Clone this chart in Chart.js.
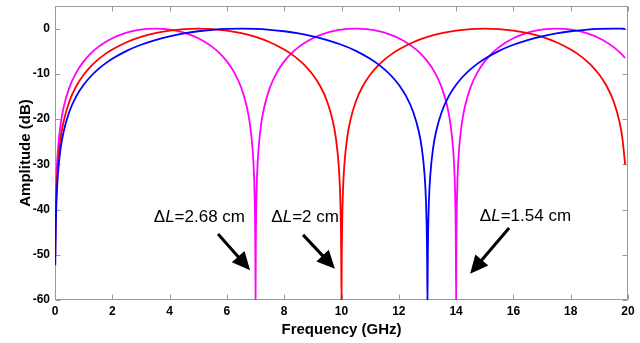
<!DOCTYPE html>
<html>
<head>
<meta charset="utf-8">
<script src="https://cdn.jsdelivr.net/npm/chart.js@4/dist/chart.umd.min.js"></script>
<style>
html, body { margin: 0; padding: 0; background: #ffffff; }
#wrap { width: 640px; height: 343px; position: relative; }
</style>
</head>
<body>
<div id="wrap"><canvas id="c" width="640" height="343"></canvas></div>
<script>
// ---- Data ----
const xTickValues = [0, 2, 4, 6, 8, 10, 12, 14, 16, 18, 20];
const yTickValues = [-60, -50, -40, -30, -20, -10, 0];

// Magenta curve (ΔL = 2.68 cm), nulls at 7 and 14 GHz
const freqMagenta = [0.01,0.02,0.05,0.1,0.2,0.3,0.5,0.75,1,1.25,1.5,1.75,2,2.25,2.5,2.75,3,3.25,3.5,3.75,4,4.25,4.5,4.75,5,5.25,5.5,5.75,6,6.25,6.5,6.7,6.8,6.9,6.95,6.98,6.99,7,
  7.01,7.02,7.05,7.1,7.2,7.3,7.5,7.75,8,8.25,8.5,8.75,9,9.25,9.5,9.75,10,10.25,10.5,10.75,11,11.25,11.5,11.75,12,12.25,12.5,12.75,13,13.25,13.5,13.7,13.8,13.9,13.95,13.98,13.99,14,
  14.01,14.02,14.05,14.1,14.2,14.3,14.5,14.75,15,15.25,15.5,15.75,16,16.25,16.5,16.75,17,17.25,17.5,17.75,18,18.25,18.5,18.75,19,19.25,19.5,19.75,19.9];
const ampMagenta = [-46.96,-40.94,-32.98,-26.96,-20.95,-17.44,-13.05,-9.62,-7.25,-5.48,-4.10,-3.01,-2.14,-1.45,-0.91,-0.50,-0.22,-0.05,0,-0.05,-0.22,-0.50,-0.91,-1.45,-2.14,-3.01,-4.10,-5.48,-7.25,-9.62,-13.05,-17.44,-20.95,-26.96,-32.98,-40.94,-46.96,-60,
  -46.96,-40.94,-32.98,-26.96,-20.95,-17.44,-13.05,-9.62,-7.25,-5.48,-4.10,-3.01,-2.14,-1.45,-0.91,-0.50,-0.22,-0.05,0,-0.05,-0.22,-0.50,-0.91,-1.45,-2.14,-3.01,-4.10,-5.48,-7.25,-9.62,-13.05,-17.44,-20.95,-26.96,-32.98,-40.94,-46.96,-60,
  -46.96,-40.94,-32.98,-26.96,-20.95,-17.44,-13.05,-9.62,-7.25,-5.48,-4.10,-3.01,-2.14,-1.45,-0.91,-0.50,-0.22,-0.05,0,-0.05,-0.22,-0.50,-0.91,-1.45,-2.14,-3.01,-4.10,-5.48,-6.49];

// Red curve (ΔL = 2 cm), null at 10 GHz
const freqRed = [0.01,0.02,0.05,0.1,0.2,0.3,0.5,0.75,1,1.25,1.5,1.75,2,2.5,3,3.5,4,4.5,5,5.5,6,6.5,7,7.5,8,8.25,8.5,8.75,9,9.25,9.5,9.7,9.8,9.9,9.95,9.98,9.99,10,
  10.01,10.02,10.05,10.1,10.2,10.3,10.5,10.75,11,11.25,11.5,11.75,12,12.5,13,13.5,14,14.5,15,15.5,16,16.5,17,17.5,18,18.25,18.5,18.75,19,19.25,19.5,19.7,19.8,19.9];
const ampRed = [-50.06,-44.04,-36.08,-30.06,-24.04,-20.53,-16.11,-12.64,-10.20,-8.34,-6.86,-5.64,-4.62,-3.01,-1.84,-1.00,-0.44,-0.11,0,-0.11,-0.44,-1.00,-1.84,-3.01,-4.62,-5.64,-6.86,-8.34,-10.20,-12.64,-16.11,-20.53,-24.04,-30.06,-36.08,-44.04,-50.06,-60,
  -50.06,-44.04,-36.08,-30.06,-24.04,-20.53,-16.11,-12.64,-10.20,-8.34,-6.86,-5.64,-4.62,-3.01,-1.84,-1.00,-0.44,-0.11,0,-0.11,-0.44,-1.00,-1.84,-3.01,-4.62,-5.64,-6.86,-8.34,-10.20,-12.64,-16.11,-20.53,-24.04,-30.06];

// Blue curve (ΔL = 1.54 cm), null at 13 GHz
const freqBlue = [0.01,0.02,0.05,0.1,0.2,0.3,0.5,0.75,1,1.25,1.5,1.75,2,2.5,3,3.5,4,4.5,5,5.5,6,6.5,7,7.5,8,8.5,9,9.5,10,10.5,11,11.25,11.5,11.75,12,12.25,12.5,12.7,12.8,12.9,12.95,12.98,12.99,13,
  13.01,13.02,13.05,13.1,13.2,13.3,13.5,13.75,14,14.25,14.5,14.75,15,15.5,16,16.5,17,17.5,18,18.5,19,19.5,19.9];
const ampBlue = [-52.34,-46.32,-38.36,-32.34,-26.32,-22.80,-18.38,-14.88,-12.42,-10.53,-9.01,-7.74,-6.66,-4.91,-3.57,-2.52,-1.69,-1.06,-0.58,-0.26,-0.06,0,-0.06,-0.26,-0.58,-1.06,-1.69,-2.52,-3.57,-4.91,-6.66,-7.74,-9.01,-10.53,-12.42,-14.88,-18.38,-22.80,-26.32,-32.34,-38.36,-46.32,-52.34,-60,
  -52.34,-46.32,-38.36,-32.34,-26.32,-22.80,-18.38,-14.88,-12.42,-10.53,-9.01,-7.74,-6.66,-4.91,-3.57,-2.52,-1.69,-1.06,-0.58,-0.26,-0.06,0,-0.04];

// Annotation labels and arrows (data coordinates)
const annoText = ['2.68 cm', '2 cm', '1.54 cm'];
const annoTextAt = [[5.04, -41.8], [8.73, -41.8], [16.42, -41.4]];
const annoArrowFrom = [[5.69, -45.4], [8.66, -45.6], [15.85, -44.1]];
const annoArrowTo = [[6.81, -53.4], [9.77, -53.1], [14.49, -54.2]];

// ---- Build chart ----
function pts(xs, ys) { return xs.map((v, i) => ({ x: v, y: ys[i] })); }

const FONT = '"Liberation Sans", Arial, Helvetica, sans-serif';
const FRAME = '#9a9a9a';

const framePlugin = {
  id: 'frame',
  beforeDatasetsDraw(chart) {
    const { ctx, chartArea: a, scales } = chart;
    const xs = scales.x, ys = scales.y;
    const L = Math.round(a.left) + 0.5, R = Math.round(a.right) - 0.5;
    const T = Math.round(a.top) + 0.5, B = Math.round(a.bottom) - 0.5;
    ctx.save();
    ctx.strokeStyle = FRAME;
    ctx.lineWidth = 1;
    ctx.strokeRect(L, T, R - L, B - T);
    const tl = 5;
    ctx.beginPath();
    xTickValues.forEach(v => {
      const px = Math.round(xs.getPixelForValue(v)) + 0.5;
      ctx.moveTo(px, B); ctx.lineTo(px, B - tl);
      ctx.moveTo(px, T); ctx.lineTo(px, T + tl);
    });
    yTickValues.forEach(v => {
      const py = Math.round(ys.getPixelForValue(v)) + 0.5;
      ctx.moveTo(L, py); ctx.lineTo(L + tl, py);
      ctx.moveTo(R, py); ctx.lineTo(R - tl, py);
    });
    ctx.stroke();
    ctx.restore();
  }
};

const annoPlugin = {
  id: 'anno',
  afterDatasetsDraw(chart) {
    const { ctx, scales } = chart;
    const xs = scales.x, ys = scales.y;
    ctx.save();
    annoText.forEach((t, i) => {
      const size = 17;
      const fN = size + 'px ' + FONT;
      const fI = 'italic ' + size + 'px ' + FONT;
      const parts = [['\u0394', fN], ['L', fI], ['=' + t, fN]];
      let w = 0;
      parts.forEach(p => { ctx.font = p[1]; w += ctx.measureText(p[0]).width; });
      let cx = xs.getPixelForValue(annoTextAt[i][0]) - w / 2;
      const cy = ys.getPixelForValue(annoTextAt[i][1]);
      ctx.fillStyle = '#000';
      ctx.textBaseline = 'middle';
      ctx.textAlign = 'left';
      parts.forEach(p => { ctx.font = p[1]; ctx.fillText(p[0], cx, cy); cx += ctx.measureText(p[0]).width; });

      const x0 = xs.getPixelForValue(annoArrowFrom[i][0]), y0 = ys.getPixelForValue(annoArrowFrom[i][1]);
      const x1 = xs.getPixelForValue(annoArrowTo[i][0]), y1 = ys.getPixelForValue(annoArrowTo[i][1]);
      const ang = Math.atan2(y1 - y0, x1 - x0);
      const hl = 18, hw = 8.5;
      const bx = x1 - hl * Math.cos(ang), by = y1 - hl * Math.sin(ang);
      ctx.strokeStyle = '#000';
      ctx.lineWidth = 3;
      ctx.beginPath();
      ctx.moveTo(x0, y0);
      ctx.lineTo(bx + 2 * Math.cos(ang), by + 2 * Math.sin(ang));
      ctx.stroke();
      ctx.fillStyle = '#000';
      ctx.beginPath();
      ctx.moveTo(x1, y1);
      ctx.lineTo(bx + hw * Math.sin(ang), by - hw * Math.cos(ang));
      ctx.lineTo(bx - hw * Math.sin(ang), by + hw * Math.cos(ang));
      ctx.closePath();
      ctx.fill();
    });
    ctx.restore();
  }
};

new Chart(document.getElementById('c'), {
  type: 'line',
  data: {
    datasets: [
      { label: 'ΔL=1.54 cm', data: pts(freqBlue, ampBlue), borderColor: '#0000ff', order: 0 },
      { label: 'ΔL=2 cm', data: pts(freqRed, ampRed), borderColor: '#ff0000', order: 1 },
      { label: 'ΔL=2.68 cm', data: pts(freqMagenta, ampMagenta), borderColor: '#ff00ff', order: 2 }
    ]
  },
  options: {
    responsive: false,
    animation: false,
    devicePixelRatio: 1,
    layout: { padding: { top: 6, right: 12, bottom: 0, left: 0 } },
    elements: {
      line: { borderWidth: 1.8, tension: 0, cubicInterpolationMode: 'monotone', fill: false },
      point: { radius: 0, hoverRadius: 0 }
    },
    plugins: { legend: { display: false }, tooltip: { enabled: false } },
    scales: {
      x: {
        type: 'linear', min: 0, max: 20,
        afterBuildTicks: s => { s.ticks = xTickValues.map(v => ({ value: v })); },
        afterFit: s => { s.height = 43; s.paddingLeft = 0; s.paddingRight = 0; },
        grid: { display: false, drawTicks: false },
        border: { display: false },
        ticks: { color: '#000', padding: 4, maxRotation: 0, autoSkip: false, font: { family: FONT, size: 12, weight: 'bold' } },
        title: { display: true, text: 'Frequency (GHz)', color: '#000', padding: { top: 0, bottom: 4 }, font: { family: FONT, size: 15, weight: 'bold' } }
      },
      y: {
        type: 'linear', min: -60, max: 5,
        afterBuildTicks: s => { s.ticks = yTickValues.map(v => ({ value: v })); },
        afterFit: s => { s.width = 55; s.paddingTop = 0; s.paddingBottom = 0; },
        grid: { display: false, drawTicks: false },
        border: { display: false },
        ticks: { color: '#000', padding: 5, autoSkip: false, font: { family: FONT, size: 12, weight: 'bold' } },
        title: { display: true, text: 'Amplitude (dB)', color: '#000', padding: { top: 17, bottom: 0 }, font: { family: FONT, size: 15, weight: 'bold' } }
      }
    }
  },
  plugins: [framePlugin, annoPlugin]
});
</script>
</body>
</html>
